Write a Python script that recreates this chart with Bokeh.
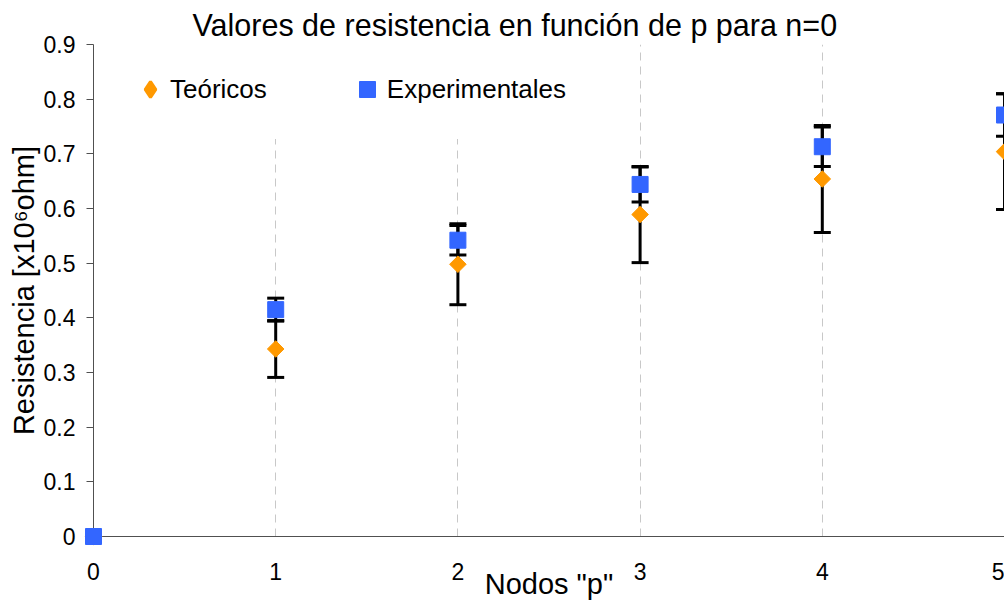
import math
from bokeh.plotting import figure
from bokeh.models import (ColumnDataSource, Whisker, TeeHead, Legend, LegendItem,
                          FixedTicker)
from bokeh.embed import file_html
from bokeh.resources import INLINE

# ---- data ----
nodos_p = [0, 1, 2, 3, 4, 5]
teoricos = [0.0, 0.343, 0.498, 0.589, 0.654, 0.704]
experimentales = [0.0, 0.415, 0.542, 0.644, 0.713, 0.771]
teoricos_err = [0.0, 0.052, 0.074, 0.088, 0.098, 0.106]
experimentales_err = [0.0, 0.021, 0.027, 0.032, 0.036, 0.039]
x_ticks = [0, 1, 2, 3, 4, 5]
x_tick_labels = ["0", "1", "2", "3", "4", "5"]
y_ticks = [0, 0.1, 0.2, 0.3, 0.4, 0.5, 0.6, 0.7, 0.8, 0.9]
y_tick_labels = ["0", "0.1", "0.2", "0.3", "0.4", "0.5", "0.6", "0.7", "0.8", "0.9"]

FONT = "Liberation Sans"
ORANGE = "#FF9900"
BLUE = "#3366FF"

src = ColumnDataSource(dict(
    x=nodos_p,
    teo=teoricos,
    exp=experimentales,
    teo_lo=[v - e for v, e in zip(teoricos, teoricos_err)],
    teo_hi=[v + e for v, e in zip(teoricos, teoricos_err)],
    exp_lo=[v - e for v, e in zip(experimentales, experimentales_err)],
    exp_hi=[v + e for v, e in zip(experimentales, experimentales_err)],
))

p = figure(width=1004, height=602, x_range=(0, 5), y_range=(0, 0.9),
           output_backend="svg", toolbar_location=None,
           min_border_left=93, min_border_top=44, min_border_right=0,
           min_border_bottom=63)
p.outline_line_color = None
p.background_fill_color = "white"

# title
p.title.text = "Valores de resistencia en función de p para n=0"
p.title.text_font = FONT
p.title.text_font_size = "30.5px"
p.title.text_font_style = "normal"
p.title.text_color = "black"
p.title.align = "left"
p.title.offset = 99
p.title.standoff = 6

# grid
p.ygrid.grid_line_color = None
p.xgrid.ticker = FixedTicker(ticks=x_ticks[1:])
p.xgrid.grid_line_color = "#c8c8c8"
p.xgrid.grid_line_dash = "8 6"
p.xgrid.grid_line_width = 1

# axes
AX = "#505050"
p.xaxis.ticker = FixedTicker(ticks=x_ticks)
p.xaxis.major_label_overrides = {t: l for t, l in zip(x_ticks, x_tick_labels)}
p.yaxis.ticker = FixedTicker(ticks=y_ticks)
p.yaxis.major_label_overrides = {t: l for t, l in zip(y_ticks, y_tick_labels)}
for ax in (p.xaxis[0], p.yaxis[0]):
    ax.axis_line_color = AX
    ax.major_tick_line_color = AX
    ax.minor_tick_line_color = None
    ax.major_label_text_font = FONT
    ax.major_label_text_font_size = "23px"
    ax.major_label_text_color = "black"
    ax.axis_label_text_font = FONT
    ax.axis_label_text_font_size = "29px"
    ax.axis_label_text_font_style = "normal"
    ax.axis_label_text_color = "black"
    ax.major_tick_in = 0

p.xaxis.major_tick_out = 0
p.xaxis.major_label_standoff = 26
p.xaxis.axis_label = 'Nodos "p"'
p.xaxis.axis_label_standoff = -15

p.yaxis.major_tick_out = 7
p.yaxis.major_label_standoff = 11
p.yaxis.axis_label = "Resistencia [x10\u2076ohm]"
p.yaxis.axis_label_standoff = 1

# error bars
for lo, hi in (("teo_lo", "teo_hi"), ("exp_lo", "exp_hi")):
    w = Whisker(source=src, base="x", lower=lo, upper=hi, dimension="height",
                line_color="black", line_width=3,
                upper_head=TeeHead(size=17, line_color="black", line_width=3),
                lower_head=TeeHead(size=17, line_color="black", line_width=3))
    p.add_layout(w)

r_teo = p.scatter("x", "teo", source=src, marker="square", size=11.7,
                  angle=math.pi / 4, fill_color=ORANGE, line_color=ORANGE,
                  level="overlay")
r_exp = p.scatter("x", "exp", source=src, marker="square", size=16,
                  fill_color=BLUE, line_color=BLUE, level="overlay")

# legend-only glyph (a diamond), no data point drawn
r_teo_leg = p.scatter(x=[float("nan")], y=[float("nan")], marker="diamond",
                      fill_color=ORANGE, line_color=ORANGE, line_width=3)

legend = Legend(items=[LegendItem(label="Teóricos", renderers=[r_teo_leg]),
                       LegendItem(label="Experimentales", renderers=[r_exp])],
                orientation="horizontal", location=(7, 397), margin=0,
                padding=29, spacing=80, glyph_width=40, glyph_height=40,
                label_standoff=0, label_text_font=FONT,
                label_text_font_size="26px", label_text_color="black",
                border_line_color="white", border_line_width=1,
                background_fill_color="white", background_fill_alpha=1.0)
p.add_layout(legend, "center")

open("out.html", "w").write(file_html(p, INLINE))
